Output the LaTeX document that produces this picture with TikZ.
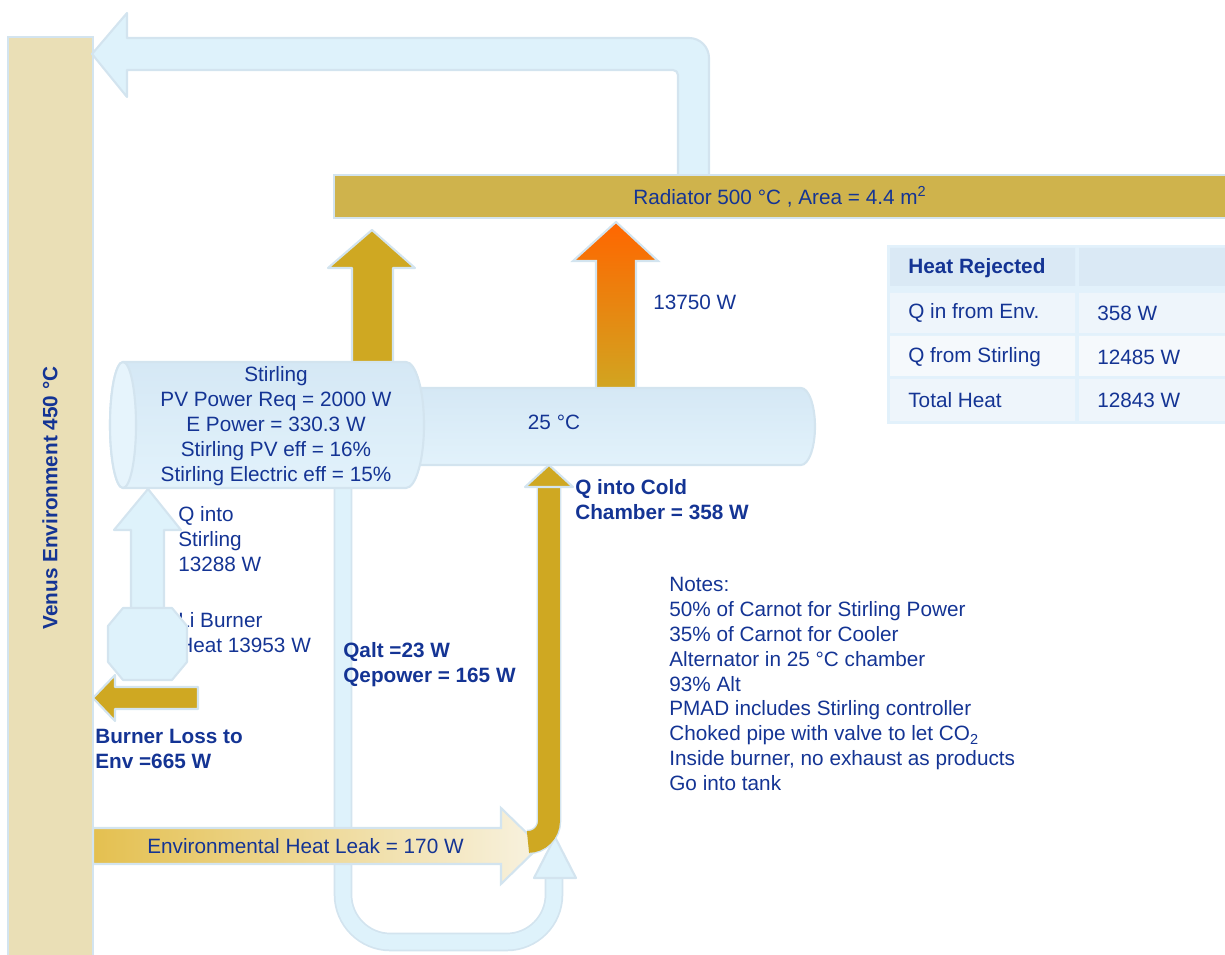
\documentclass[tikz,border=0pt]{standalone}
\usepackage{fontspec}
\setmainfont{Liberation Sans}
\definecolor{txtblue}{RGB}{20,52,148}
\definecolor{paleblue}{RGB}{222,242,251}
\definecolor{edgeblue}{RGB}{211,228,239}
\definecolor{goldfill}{RGB}{207,168,34}
\definecolor{radgold}{RGB}{207,179,76}
\definecolor{sand}{RGB}{234,223,182}
\definecolor{hot}{RGB}{255,102,0}
\definecolor{cyltop}{RGB}{213,232,245}
\definecolor{cylbot}{RGB}{226,242,251}
\definecolor{capblue}{RGB}{230,244,252}
\definecolor{leakgold}{RGB}{228,192,80}
\definecolor{leakcream}{RGB}{248,242,224}
\definecolor{tblframe}{RGB}{226,241,251}
\definecolor{tblhead}{RGB}{218,233,245}
\definecolor{tblrow}{RGB}{238,245,251}
\definecolor{tblrowb}{RGB}{245,249,252}
\usetikzlibrary{arrows}
\newcommand{\txt}{\fontsize{11.8}{14.2}\selectfont}

\begin{document}
\begin{tikzpicture}[x=0.02cm,y=-0.02cm,
  every node/.style={text=txtblue,font=\txt,inner sep=0pt},
  pale/.style={fill=paleblue,draw=edgeblue,line width=1.2pt,line join=round},
  goldarr/.style={fill=goldfill,draw=edgeblue,line width=1.2pt,line join=round},
  cyl/.style={top color=cyltop,bottom color=cylbot,draw=edgeblue,line width=1.2pt}]
\useasboundingbox (0,0) rectangle (1225,955);
% environment
\draw[fill=sand,draw=edgeblue,line width=1.2pt] (8,37) rectangle (93,962);
\node[rotate=90,font=\txt\bfseries] (venus) at (50,498) {Venus Environment 450 °C};
% heat back to the environment
\draw[pale] (92,54) -- (127,13) -- (127,38) -- (689,38) arc[start angle=-90,end angle=0,radius=20]
  -- (709,177) -- (678,177) -- (678,75) arc[start angle=0,end angle=-90,radius=5]
  -- (127,70) -- (127,97) -- cycle;
\draw[fill=radgold,draw=edgeblue,line width=1.2pt] (334,175) rectangle (1232,218);
\node[right] (rad) at (633,197) {Radiator 500 °C , Area = 4.4 m\textsuperscript{2}};
% loop under the chamber
\draw[edgeblue,line width=10.6pt,rounded corners=27pt] (343,480) -- (343,942) -- (554,942) -- (554,876);
\draw[paleblue,line width=8.6pt,rounded corners=27pt] (343,480) -- (343,942) -- (554,942) -- (554,876);
\draw[pale] (534,878) -- (555,837) -- (576,878) -- cycle;
% arrows up to the radiator
\draw[goldarr] (352,372) -- (352,268) -- (328,268) -- (372,230) -- (415,268) -- (393,268) -- (393,372);
\draw[draw=edgeblue,line width=1.2pt,top color=hot,bottom color=goldfill] (596,396) -- (596,261) -- (573,261)
  -- (616,222) -- (658,261) -- (636,261) -- (636,396);
\node[right] (q13750) at (653,302) {13750 W};
% cold chamber and Stirling
\draw[cyl] (390,388) -- (801,388) arc[start angle=-90,end angle=90,x radius=14,y radius=38.5] -- (390,465) -- cycle;
\node (cold) at (554,422) {25 °C};
\draw[cyl] (123,362) -- (406,362) arc[start angle=-90,end angle=90,x radius=18,y radius=63]
  -- (123,488) arc[start angle=90,end angle=270,x radius=13,y radius=63] -- cycle;
\draw[fill=capblue,draw=edgeblue,line width=1.2pt] (123,425) ellipse[x radius=13,y radius=63];
\node[align=center] (stirling) at (276,426) {Stirling\\PV Power Req = 2000 W\\E Power = 330.3 W\\Stirling PV eff = 16\%\\Stirling Electric eff = 15\%};
% burner
\draw[pale] (131,612) -- (131,530) -- (114,530) -- (148,489) -- (181,530) -- (164,530) -- (164,612);
\node[right,align=left] (qstir) at (178,539) {Q into\\Stirling\\13288 W};
\node[right,align=left] (burner) at (178,633) {Li Burner\\Heat 13953 W};
\draw[pale] (123,608) -- (172,608) -- (187,626) -- (187,662) -- (172,680) -- (123,680) -- (108,662) -- (108,626) -- cycle;
\draw[goldarr] (198,687) -- (115,687) -- (115,675) -- (93,698) -- (115,721) -- (115,709) -- (198,709) -- cycle;
\node[right,align=left,font=\txt\bfseries] (loss) at (95,749) {Burner Loss to\\Env =665 W};
\node[right,align=left,font=\txt\bfseries] (qalt) at (343,665) {Qalt =23 W\\Qepower = 165 W};
% heat leak into the cold chamber
\draw[draw=edgeblue,line width=1.2pt,left color=leakgold,right color=leakcream] (93,828) -- (501,828) -- (501,808)
  -- (540,846) -- (501,884) -- (501,864) -- (93,864) -- cycle;
\node[right] (leak) at (147,846) {Environmental Heat Leak = 170 W};
\draw[edgeblue,line width=14pt] (549,482) -- (549,821) arc[start angle=0,end angle=90,radius=21];
\draw[goldfill,line width=12.4pt] (549,482) -- (549,821) arc[start angle=0,end angle=90,radius=21];
\draw[goldarr] (525,487) -- (549,465) -- (573,487) -- cycle;
\node[right,align=left,font=\txt\bfseries] (qcold) at (575,500) {Q into Cold\\Chamber = 358 W};
% table
\fill[tblframe] (887,245) rectangle (1232,424);
\fill[tblhead] (890,248) rectangle (1075,286) (1079,248) rectangle (1232,286);
\fill[tblrow] (890,293) rectangle (1075,333) (1079,293) rectangle (1232,333);
\fill[tblrowb] (890,336) rectangle (1075,376) (1079,336) rectangle (1232,376);
\fill[tblrow] (890,379) rectangle (1075,421) (1079,379) rectangle (1232,421);
\node[right,font=\txt\bfseries] (hdr) at (908,268) {Heat Rejected};
\node[right] (envq) at (908,313) {Q in from Env.};
\node[right] (envv) at (1097,313) {358 W};
\node[right] (stq) at (908,357) {Q from Stirling};
\node[right] (stv) at (1097,357) {12485 W};
\node[right] (totq) at (908,400) {Total Heat};
\node[right] (totv) at (1097,400) {12843 W};
% notes
\node[right,align=left] (notes) at (669,684) {Notes:\\50\% of Carnot for Stirling Power\\35\% of Carnot for Cooler\\Alternator in 25 °C chamber\\93\% Alt\\PMAD includes Stirling controller\\Choked pipe with valve to let CO\textsubscript{2}\\Inside burner, no exhaust as products\\Go into tank};
\end{tikzpicture}
\end{document}
